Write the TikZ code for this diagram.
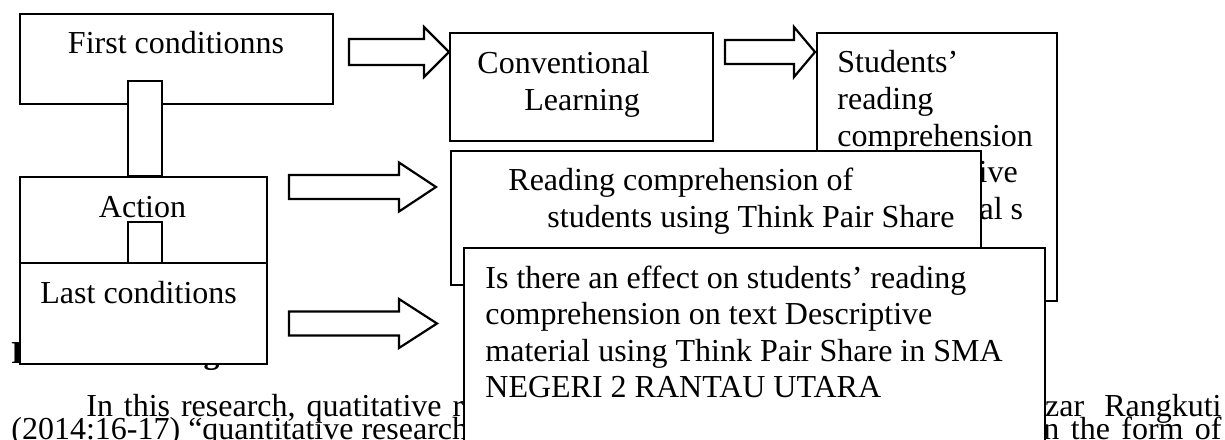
\documentclass[tikz,border=0pt]{standalone}
\usepackage{fontspec}
\setmainfont{Liberation Serif}
\tikzset{
  box/.style 2 args={draw, fill=white, line width=1.1pt, inner sep=0pt,
    anchor=north west, minimum width=#1*0.5pt, minimum height=#2*0.5pt},
  txt/.style={inner sep=0pt, anchor=base west, font=\fontsize{16}{19}\selectfont},
  ctxt/.style={txt, anchor=base},
  rtxt/.style={txt, anchor=base east},
  bold/.style={txt, font=\fontsize{16}{19}\selectfont\bfseries},
  blockline/.style={draw, line width=1.1pt, line join=miter}
}
% hollow block arrow: start x, head base x, tip x, centre y, shaft half, head half
\newcommand\blockarrow[6]{%
  \path[blockline] (#1,#4-#5) -- (#2,#4-#5) -- (#2,#4-#6) -- (#3,#4)
    -- (#2,#4+#6) -- (#2,#4+#5) -- (#1,#4+#5) -- cycle;}
\begin{document}
\begin{tikzpicture}[x=0.5pt,y=-0.5pt]
\useasboundingbox (0,0) rectangle (1225,439);

% running text of the page, partly covered by the boxes
\node[bold] (head) at (11,363) {Research Design};
\node[txt] (p1l) at (86,416) {In\hspace{5.45pt}this\hspace{5.45pt}research,\hspace{5.45pt}quatitative\hspace{5.45pt}research};
\node[rtxt] (p1r) at (1222,416) {Nizar\hspace{10pt}Rangkuti};
\node[txt] (p2l) at (11,439) {(2014:16-17) “quantitative research};
\node[rtxt] (p2r) at (1222,439) {in\hspace{5.7pt}the\hspace{5.7pt}form\hspace{5.7pt}of};

% left column
\node[box={313}{90}] (first) at (19,13) {};
\node[ctxt] (firstT) at (176,54) {First conditionns};
\node[box={34}{95}] (link1) at (127,80) {};
\node[box={247}{86}] (action) at (19,176) {};
\node[ctxt] (actionT) at (142.5,217) {Action};
\node[box={34}{41}] (link2) at (127,221) {};
\node[box={247}{101}] (last) at (19,262) {};
\node[txt] (lastT) at (40,303) {Last conditions};

% top row
\node[box={263}{108}] (conv) at (449,32) {};
\node[txt] (conv1) at (477,73) {Conventional};
\node[txt] (conv2) at (524,110) {Learning};

\node[box={240}{268}] (stud) at (816,32) {};
\node[txt] (stud1) at (837,72) {Students’};
\node[txt] (stud2) at (837,109) {reading};
\node[txt] (stud3) at (837,146) {comprehension};
\node[txt] (stud4) at (837,182.5) {on descriptive};
\node[txt] (stud5) at (837,219) {conventional s};

% overlapping result boxes
\node[box={530}{134}] (read) at (450,150) {};
\node[txt] (read1) at (508,190) {Reading comprehension of};
\node[txt] (read2) at (547,227) {students using Think Pair Share};

\node[box={581}{240}] (effect) at (463,247) {};
\node[txt] (eff1) at (485,288) {Is there an effect on students’ reading};
\node[txt] (eff2) at (485,324.5) {comprehension on text Descriptive};
\node[txt] (eff3) at (485,361) {material using Think Pair Share in SMA};
\node[txt] (eff4) at (485,397) {NEGERI 2 RANTAU UTARA};

% block arrows
\blockarrow{349}{424}{449}{52}{13}{25}
\blockarrow{725}{794}{815}{52}{12}{25}
\blockarrow{289}{399}{436}{187}{12}{24.5}
\blockarrow{289}{399}{437}{323.5}{12}{24.5}
\end{tikzpicture}
\end{document}
